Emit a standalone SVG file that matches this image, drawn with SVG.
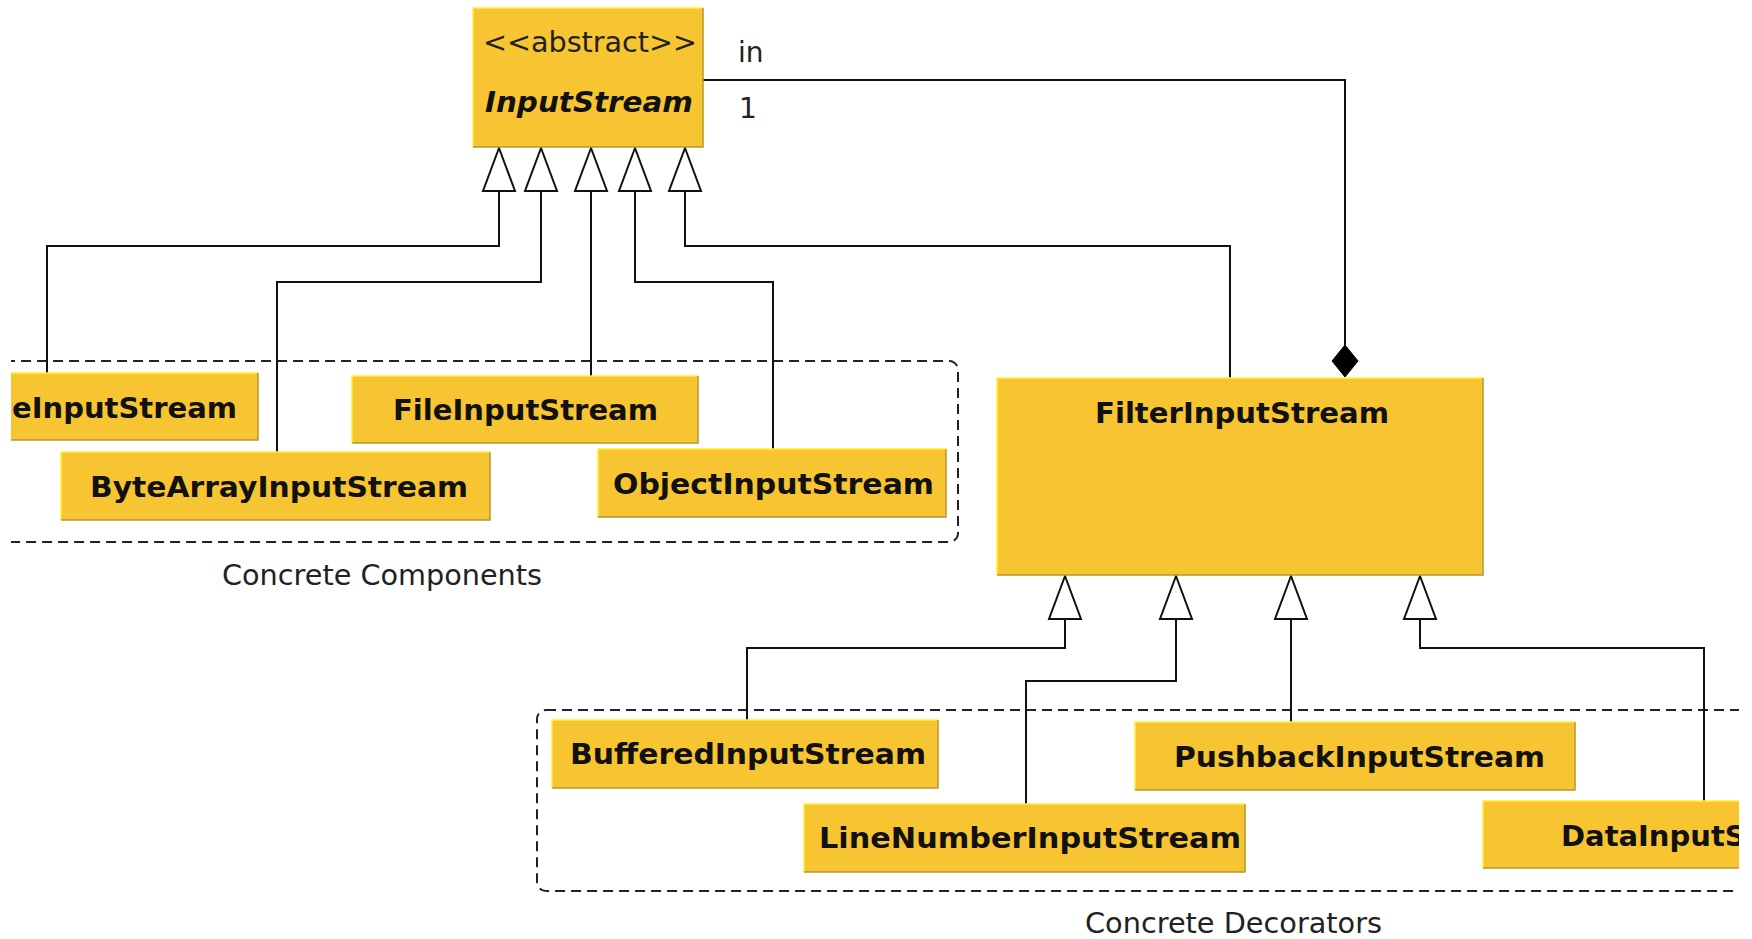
<svg xmlns="http://www.w3.org/2000/svg" width="1752" height="939" viewBox="0 0 1752 939">
<defs>
<style>
.box{fill:#F8C532}
.hi{fill:none;stroke:#FFEF3A;stroke-width:1.5}
.lo{fill:none;stroke:#B8972E;stroke-width:1.5}
.name{font-family:"DejaVu Sans",sans-serif;font-weight:bold;font-size:29px;fill:#111}
.lbl{font-family:"DejaVu Sans",sans-serif;font-size:28px;fill:#222}
.grp{fill:none;stroke:#222;stroke-width:2;stroke-dasharray:10 6}
.edge{fill:none;stroke:#111;stroke-width:2}
.tri{fill:#fff;stroke:#111;stroke-width:2;stroke-linejoin:miter}
.dia{fill:#000;stroke:#000;stroke-width:1}
</style>
<clipPath id="crop"><rect x="11" y="0" width="1728" height="939"/></clipPath>
</defs>
<rect width="1752" height="939" fill="#fff"/>
<g clip-path="url(#crop)">
  <g id="concrete-components">
    <rect class="grp" x="-20" y="361" width="978" height="181" rx="9"/>
    <text class="lbl" x="222" y="585" textLength="320" lengthAdjust="spacingAndGlyphs">Concrete Components</text>
  </g>
  <g id="concrete-decorators">
    <rect class="grp" x="537" y="710" width="1300" height="181" rx="9"/>
    <text class="lbl" x="1085" y="933" textLength="297" lengthAdjust="spacingAndGlyphs">Concrete Decorators</text>
  </g>

  <g id="connectors">
    <path class="edge" d="M499,191 V246 H47 V373"/>
    <path class="edge" d="M541,191 V282 H277 V452"/>
    <path class="edge" d="M591,191 V376"/>
    <path class="edge" d="M635,191 V282 H773 V449"/>
    <path class="edge" d="M685,191 V246 H1230 V378"/>
    <path class="edge" d="M703,80 H1345 V346"/>
    <path class="dia" d="M1345,345 L1358,361 L1345,377 L1332,361 Z"/>
    <path class="edge" d="M1065,619 V648 H747 V720"/>
    <path class="edge" d="M1176,619 V681 H1026 V804"/>
    <path class="edge" d="M1291,619 V722"/>
    <path class="edge" d="M1420,619 V648 H1704 V801"/>
    <path class="tri" d="M499,148 L515,191 L483,191 Z"/>
    <path class="tri" d="M541,148 L557,191 L525,191 Z"/>
    <path class="tri" d="M591,148 L607,191 L575,191 Z"/>
    <path class="tri" d="M635,148 L651,191 L619,191 Z"/>
    <path class="tri" d="M685,148 L701,191 L669,191 Z"/>
    <path class="tri" d="M1065,576 L1081,619 L1049,619 Z"/>
    <path class="tri" d="M1176,576 L1192,619 L1160,619 Z"/>
    <path class="tri" d="M1291,576 L1307,619 L1275,619 Z"/>
    <path class="tri" d="M1420,576 L1436,619 L1404,619 Z"/>
    <text class="lbl" x="738" y="62" font-size="26">in</text>
    <text class="lbl" x="739" y="118" font-size="26">1</text>
  </g>

  <g id="InputStream">
    <rect class="box" x="473" y="8" width="230" height="139"/>
    <path class="hi" d="M473,147 V8 H703"/>
    <path class="lo" d="M703,8 V147 H473"/>
    <text class="lbl" x="483" y="52" textLength="214" lengthAdjust="spacingAndGlyphs">&lt;&lt;abstract&gt;&gt;</text>
    <text class="name" x="485" y="112" font-style="italic" textLength="208" lengthAdjust="spacingAndGlyphs">InputStream</text>
  </g>
  <g id="eInputStream">
    <rect class="box" x="-20" y="373" width="278" height="67"/>
    <path class="hi" d="M-20,440 V373 H258"/>
    <path class="lo" d="M258,373 V440 H-20"/>
    <text class="name" x="12" y="418" textLength="225" lengthAdjust="spacingAndGlyphs">eInputStream</text>
  </g>
  <g id="FileInputStream">
    <rect class="box" x="352" y="376" width="346" height="67"/>
    <path class="hi" d="M352,443 V376 H698"/>
    <path class="lo" d="M698,376 V443 H352"/>
    <text class="name" x="393" y="420" textLength="265" lengthAdjust="spacingAndGlyphs">FileInputStream</text>
  </g>
  <g id="ByteArrayInputStream">
    <rect class="box" x="61" y="452" width="429" height="68"/>
    <path class="hi" d="M61,520 V452 H490"/>
    <path class="lo" d="M490,452 V520 H61"/>
    <text class="name" x="90" y="497" textLength="378" lengthAdjust="spacingAndGlyphs">ByteArrayInputStream</text>
  </g>
  <g id="ObjectInputStream">
    <rect class="box" x="598" y="449" width="348" height="68"/>
    <path class="hi" d="M598,517 V449 H946"/>
    <path class="lo" d="M946,449 V517 H598"/>
    <text class="name" x="613" y="494" textLength="321" lengthAdjust="spacingAndGlyphs">ObjectInputStream</text>
  </g>
  <g id="FilterInputStream">
    <rect class="box" x="997" y="378" width="486" height="197"/>
    <path class="hi" d="M997,575 V378 H1483"/>
    <path class="lo" d="M1483,378 V575 H997"/>
    <text class="name" x="1095" y="423" textLength="294" lengthAdjust="spacingAndGlyphs">FilterInputStream</text>
  </g>
  <g id="BufferedInputStream">
    <rect class="box" x="552" y="720" width="386" height="68"/>
    <path class="hi" d="M552,788 V720 H938"/>
    <path class="lo" d="M938,720 V788 H552"/>
    <text class="name" x="570" y="764" textLength="356" lengthAdjust="spacingAndGlyphs">BufferedInputStream</text>
  </g>
  <g id="LineNumberInputStream">
    <rect class="box" x="804" y="804" width="441" height="68"/>
    <path class="hi" d="M804,872 V804 H1245"/>
    <path class="lo" d="M1245,804 V872 H804"/>
    <text class="name" x="819" y="848" textLength="422" lengthAdjust="spacingAndGlyphs">LineNumberInputStream</text>
  </g>
  <g id="PushbackInputStream">
    <rect class="box" x="1135" y="722" width="440" height="68"/>
    <path class="hi" d="M1135,790 V722 H1575"/>
    <path class="lo" d="M1575,722 V790 H1135"/>
    <text class="name" x="1174" y="767" textLength="371" lengthAdjust="spacingAndGlyphs">PushbackInputStream</text>
  </g>
  <g id="DataInputStream">
    <rect class="box" x="1483" y="801" width="400" height="67"/>
    <path class="hi" d="M1483,868 V801 H1883"/>
    <path class="lo" d="M1883,801 V868 H1483"/>
    <text class="name" x="1561" y="846">DataInputStream</text>
  </g>
</g>
</svg>
